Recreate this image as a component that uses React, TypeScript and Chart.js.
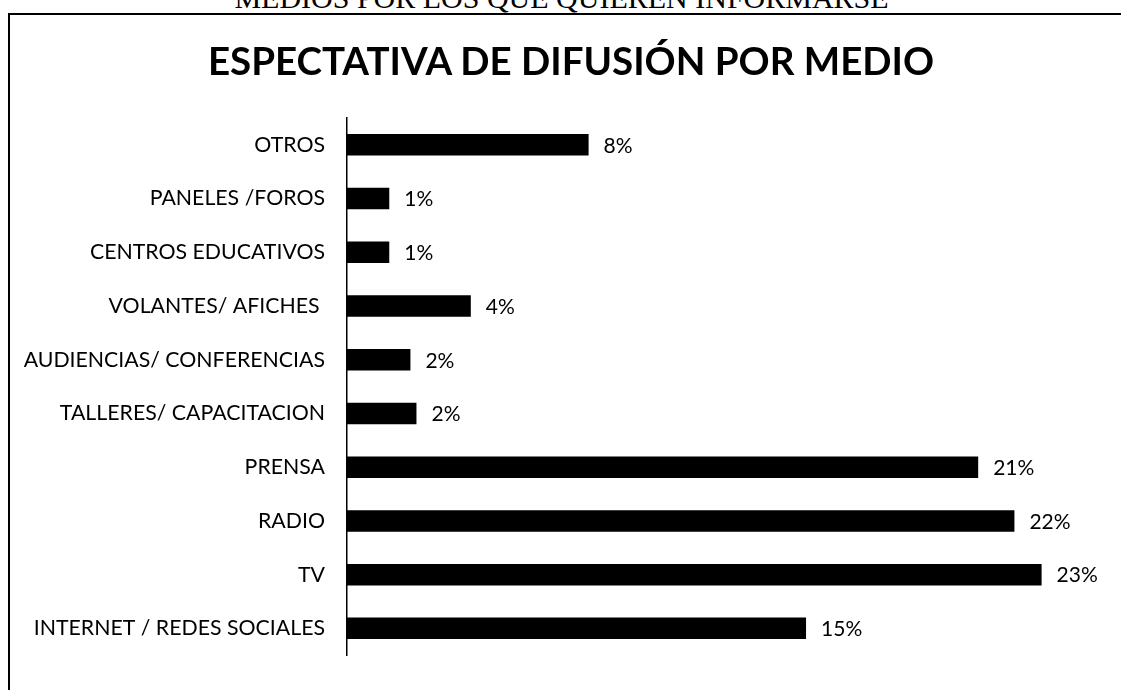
import React, { useEffect, useRef } from "react";
import { Chart, registerables } from "chart.js";

Chart.register(...registerables);

const categories = [
  "OTROS",
  "PANELES /FOROS",
  "CENTROS EDUCATIVOS",
  "VOLANTES/ AFICHES ",
  "AUDIENCIAS/ CONFERENCIAS",
  "TALLERES/ CAPACITACION",
  "PRENSA",
  "RADIO",
  "TV",
  "INTERNET / REDES SOCIALES",
];
const values = [8.0, 1.4, 1.4, 4.1, 2.1, 2.3, 20.9, 22.1, 23.0, 15.2];
const pageHeading = "MEDIOS POR LOS QUE QUIEREN INFORMARSE";
const chartTitle = "ESPECTATIVA DE DIFUSIÓN POR MEDIO";

const FONT = "Lato, 'Liberation Sans', sans-serif";

const valueLabels = {
  id: "valueLabels",
  afterDatasetsDraw(chart: any) {
    const ctx = chart.ctx;
    const meta = chart.getDatasetMeta(0);
    ctx.save();
    ctx.fillStyle = "#000";
    ctx.font = `21px ${FONT}`;
    ctx.textBaseline = "middle";
    ctx.textAlign = "left";
    meta.data.forEach((bar: any, i: number) => {
      ctx.fillText(`${Math.round(values[i])}%`, bar.x + 15, bar.y + 1);
    });
    ctx.restore();
  },
};

export default function App() {
  const ref = useRef<HTMLCanvasElement | null>(null);
  useEffect(() => {
    if (!ref.current) return;
    const chart = new Chart(ref.current, {
      type: "bar",
      data: {
        labels: categories,
        datasets: [
          {
            data: values,
            backgroundColor: "#000",
            borderWidth: 0,
            categoryPercentage: 1,
            barPercentage: 0.4,
          },
        ],
      },
      options: {
        indexAxis: "y",
        animation: false,
        responsive: false,
        maintainAspectRatio: false,
        layout: { padding: { top: 118, right: 19, bottom: 18, left: 0 } },
        plugins: {
          legend: { display: false },
          tooltip: { enabled: false },
          title: { display: false },
        },
        scales: {
          x: { display: false, min: 0, max: 25 },
          y: {
            afterFit(scale: any) {
              scale.width = 347;
            },
            grid: { display: false, drawTicks: false },
            border: { display: true, color: "#000", width: 1.5 },
            ticks: {
              color: "#000",
              padding: 22,
              font: { family: FONT, size: 21.3 },
            },
          },
        },
      },
      plugins: [valueLabels],
    });
    return () => chart.destroy();
  }, []);

  return (
    <div
      style={{
        position: "fixed",
        left: 0,
        top: 0,
        width: 1121,
        height: 690,
        background: "#fff",
        overflow: "hidden",
      }}
    >
      <div
        style={{
          position: "absolute",
          left: 0,
          width: 1121,
          top: -17,
          textAlign: "center",
          fontFamily: "'Liberation Serif', serif",
          fontSize: 30,
          lineHeight: "30px",
          color: "#000",
          paddingLeft: 2,
          boxSizing: "border-box",
          whiteSpace: "nowrap",
        }}
      >
        {pageHeading}
      </div>
      <div
        style={{
          position: "absolute",
          left: 8,
          top: 13,
          width: 1200,
          height: 800,
          borderTop: "2px solid #000",
          borderLeft: "2px solid #000",
        }}
      />
      <canvas
        ref={ref}
        width={1121}
        height={690}
        style={{ position: "absolute", left: 0, top: 0 }}
      />
      <div
        style={{
          position: "absolute",
          left: 21,
          width: 1100,
          top: 37,
          textAlign: "center",
          fontFamily: FONT,
          fontWeight: "bold",
          fontSize: 38.5,
          lineHeight: "46px",
          color: "#000",
          whiteSpace: "nowrap",
        }}
      >
        {chartTitle}
      </div>
    </div>
  );
}
